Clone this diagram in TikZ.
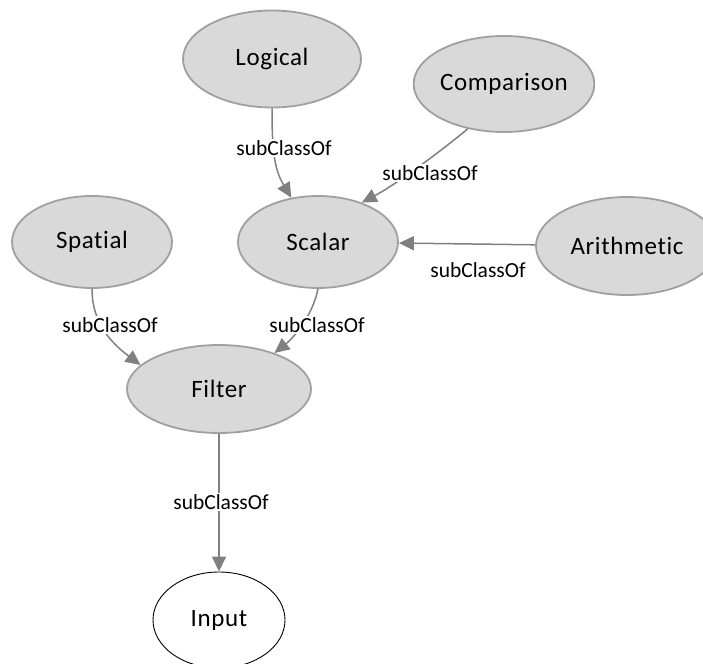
\documentclass[tikz,border=0pt]{standalone}
\usepackage{fontspec}
\setmainfont{Carlito}[Ligatures=NoCommon]
\newfontfamily\classfont{Carlito}[Ligatures=NoCommon, LetterSpace=2.5]
\usetikzlibrary{shapes.geometric,arrows.meta}

\definecolor{nodefill}{HTML}{D9D9D9}
\definecolor{nodeline}{HTML}{A0A0A0}
\definecolor{edgegray}{HTML}{808080}

\tikzset{
  cls/.style={ellipse, draw=nodeline, line width=1.8pt, fill=nodefill,
    inner sep=0pt, font=\classfont\fontsize{25}{30}\selectfont},
  leafcls/.style={ellipse, draw=black, line width=0.9pt, fill=white,
    inner sep=0pt, font=\classfont\fontsize{25}{30}\selectfont},
  edge/.style={draw=edgegray, line width=1.5pt,
    -{Triangle[length=15pt,width=14pt]}},
  elabel/.style={fill=white, inner sep=1.5pt,
    font=\fontsize{21.5}{24}\selectfont}
}

\begin{document}
\begin{tikzpicture}[x=1pt,y=1pt]
  \useasboundingbox (0,0) rectangle (703,-663);
  \clip (0,0) rectangle (703,-663);

  % class nodes
  \node[cls, minimum width=178pt, minimum height=97pt] (Logical)    at (272,-59)  {Logical};
  \node[cls, minimum width=176pt, minimum height=96pt] (Comparison) at (504,-84)  {Comparison};
  \node[cls, minimum width=160pt, minimum height=92pt] (Spatial)    at (92,-242)  {Spatial};
  \node[cls, minimum width=160pt, minimum height=92pt] (Scalar)     at (318,-242) {Scalar};
  \node[cls, minimum width=182pt, minimum height=98pt] (Arithmetic) at (627,-246) {Arithmetic};
  \node[cls, minimum width=184pt, minimum height=88pt] (Filter)     at (219,-389) {Filter};
  \node[leafcls, minimum width=132pt, minimum height=96pt] (Input)  at (219,-620) {Input};

  % subclass edges
  \draw[edge] (Logical) .. controls (272,-150) and (274,-169) .. (Scalar);
  \draw[edge] (Comparison.231) .. controls (440,-152) and (395,-185) .. (Scalar.42);
  \draw[edge] (Arithmetic) -- (Scalar);
  \draw[edge] (Spatial) .. controls (92,-322) and (110,-342) .. (Filter.163);
  \draw[edge] (Scalar.south) .. controls (312,-318) and (292,-339) .. (Filter.33);
  \draw[edge] (Filter) -- (Input);

  % edge labels
  \node[elabel] (L1) at (284,-148) {subClassOf};
  \node[elabel] (L2) at (430,-173) {subClassOf};
  \node[elabel] (L3) at (478,-270) {subClassOf};
  \node[elabel] (L4) at (110,-325) {subClassOf};
  \node[elabel] (L5) at (317,-325) {subClassOf};
  \node[elabel] (L6) at (221,-502) {subClassOf};
\end{tikzpicture}
\end{document}
